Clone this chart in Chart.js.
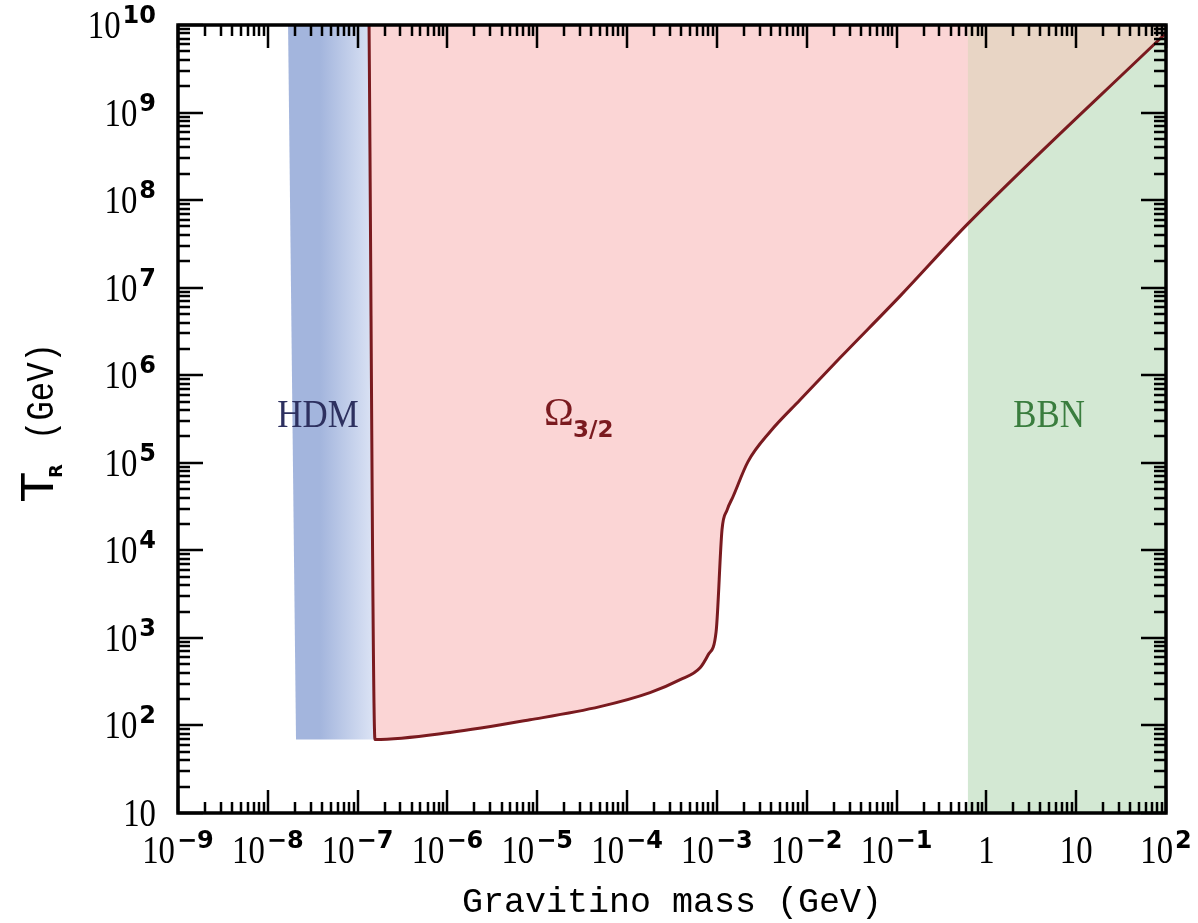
<!DOCTYPE html>
<html>
<head>
<meta charset="utf-8">
<script src="https://cdn.jsdelivr.net/npm/chart.js@4.4.0/dist/chart.umd.min.js"></script>
<style>
  body { margin: 0; background: #fff; }
  #wrap { width: 1198px; height: 923px; }
</style>
</head>
<body>
<div id="wrap"><canvas id="myChart"></canvas></div>
<script>
// ข้อมูลของกราฟ
var hdmMass = [1.68e-8, 2.06e-8, 1.56e-7, 1.56e-7];
var hdmT    = [1e10, 69, 69, 1e10];

// Omega_3/2 boundary curve
var curveMass = [1.34e-7, 1.56e-7, 1.07e-6, 8.3e-6, 5.0e-5, 1.8e-4, 3.9e-4, 6.5e-4, 8.0e-4, 9.8e-4,
                 1.14e-3, 1.30e-3, 1.51e-3, 2.22e-3, 3.91e-3, 8.45e-3, 0.0235, 0.110, 0.62, 100];
var curveT    = [1e10, 69, 83, 116, 164, 237, 333, 457, 643, 1180,
                 17200, 29000, 40900, 1.03e5, 2.26e5, 5.24e5, 1.58e6, 8.06e6, 5.35e7, 8.1e9];

// BBN band
var bbnMass = [0.62, 100];
var bbnT    = [1e10, 1e10];

// tick labels
var xTickValues = [1e-9, 1e-8, 1e-7, 1e-6, 1e-5, 1e-4, 1e-3, 1e-2, 1e-1, 1, 10, 100];
var xTickBase   = ['10', '10', '10', '10', '10', '10', '10', '10', '10', '1', '10', '10'];
var xTickSup    = ['\u22129', '\u22128', '\u22127', '\u22126', '\u22125', '\u22124', '\u22123', '\u22122', '\u22121', '', '', '2'];
var yTickValues = [10, 1e2, 1e3, 1e4, 1e5, 1e6, 1e7, 1e8, 1e9, 1e10];
var yTickBase   = ['10', '10', '10', '10', '10', '10', '10', '10', '10', '10'];
var yTickSup    = ['', '2', '3', '4', '5', '6', '7', '8', '9', '10'];

function pts(xs, ys) {
    return xs.map(function (x, i) { return { x: x, y: ys[i] }; });
}

// overlap region (Omega and BBN) = tail of the curve from the BBN edge
var bbnStart = curveMass.indexOf(bbnMass[0]);

var hdmGradient = function (context) {
    var chart = context.chart;
    var ctx = chart.ctx, area = chart.chartArea;
    if (!area) return '#a3b5dd';
    var sx = chart.scales.x;
    var g = ctx.createLinearGradient(sx.getPixelForValue(3.8e-8), 0, sx.getPixelForValue(1.45e-7), 0);
    g.addColorStop(0, '#a3b5dd');
    g.addColorStop(1, '#dae2f4');
    return g;
};

// text helper: parts drawn one after another, with optional horizontal squeeze
function richWidth(ctx, parts) {
    var w = 0;
    parts.forEach(function (p) {
        ctx.font = p.font;
        w += ctx.measureText(p.text).width * (p.sx || 1) + (p.gap || 0);
    });
    return w;
}
function drawRich(ctx, parts, x, y, align) {
    var w = richWidth(ctx, parts);
    var cx = align === 'center' ? x - w / 2 : (align === 'right' ? x - w : x);
    parts.forEach(function (p) {
        ctx.font = p.font;
        cx += (p.gap || 0);
        ctx.save();
        ctx.translate(cx, y + (p.dy || 0));
        ctx.scale(p.sx || 1, 1);
        ctx.fillText(p.text, 0, 0);
        ctx.restore();
        cx += ctx.measureText(p.text).width * (p.sx || 1);
    });
}

var BASE_FONT = '39px "Liberation Serif"';
var SUP_FONT = 'bold 24px "DejaVu Sans"';

function labelParts(base, sup) {
    var parts = [{ text: base, font: BASE_FONT, sx: 0.84 }];
    if (sup) parts.push({ text: sup, font: SUP_FONT, dy: -15, gap: 2 });
    return parts;
}

var framePlugin = {
    id: 'frame',
    afterDatasetsDraw: function (chart) {
        var ctx = chart.ctx, a = chart.chartArea;
        var sx = chart.scales.x, sy = chart.scales.y;
        ctx.save();
        ctx.strokeStyle = '#000';
        ctx.lineCap = 'butt';

        // ticks, pointing inwards on all four sides
        var e, k, p, len;
        ctx.lineWidth = 2.5;
        for (e = -9; e <= 2; e++) {
            for (k = 1; k <= 9; k++) {
                var v = k * Math.pow(10, e);
                if (v > 100.0001) break;
                p = Math.round(sx.getPixelForValue(v));
                len = (k === 1) ? 23 : 11;
                ctx.beginPath();
                ctx.moveTo(p, a.bottom); ctx.lineTo(p, a.bottom - len);
                ctx.moveTo(p, a.top); ctx.lineTo(p, a.top + len);
                ctx.stroke();
            }
        }
        for (e = 1; e <= 10; e++) {
            for (k = 1; k <= 9; k++) {
                var w = k * Math.pow(10, e);
                if (w > 1.0001e10) break;
                p = Math.round(sy.getPixelForValue(w));
                len = (k === 1) ? 25 : 12;
                ctx.beginPath();
                ctx.moveTo(a.left, p); ctx.lineTo(a.left + len, p);
                ctx.moveTo(a.right, p); ctx.lineTo(a.right - len, p);
                ctx.stroke();
            }
        }

        // box
        ctx.lineWidth = 3.5;
        ctx.strokeRect(a.left, a.top, a.right - a.left, a.bottom - a.top);

        // tick labels
        ctx.fillStyle = '#000';
        ctx.textBaseline = 'alphabetic';
        xTickValues.forEach(function (v, i) {
            drawRich(ctx, labelParts(xTickBase[i], xTickSup[i]), sx.getPixelForValue(v), 863, 'center');
        });
        yTickValues.forEach(function (v, i) {
            drawRich(ctx, labelParts(yTickBase[i], yTickSup[i]), 156, sy.getPixelForValue(v) + 13, 'right');
        });

        // axis titles
        drawRich(ctx, [{ text: 'Gravitino mass (GeV)', font: '35px "Liberation Mono"' }], (a.left + a.right) / 2, 912, 'center');

        ctx.save();
        ctx.translate(53, 503);
        ctx.rotate(-Math.PI / 2);
        drawRich(ctx, [{ text: 'T', font: '48px "Liberation Mono"', sx: 1.1 }], 0, 0, 'left');
        drawRich(ctx, [{ text: 'R', font: 'bold 18px "DejaVu Sans"' }], 25, 9, 'left');
        drawRich(ctx, [{ text: '(GeV)', font: '38px "Liberation Mono"', sx: 0.85 }], 63, 0, 'left');
        ctx.restore();

        // region labels
        ctx.fillStyle = '#2d305f';
        drawRich(ctx, [{ text: 'HDM', font: '41px "Liberation Serif"', sx: 0.85 }], 318, 427, 'center');
        ctx.fillStyle = '#3a7d3e';
        drawRich(ctx, [{ text: 'BBN', font: '41px "Liberation Serif"', sx: 0.85 }], 1049, 427, 'center');
        ctx.fillStyle = '#7a1a1f';
        drawRich(ctx, [{ text: '\u03A9', font: '40px "Liberation Serif"' }], 544, 425, 'left');
        drawRich(ctx, [{ text: '3/2', font: 'bold 23px "DejaVu Sans"' }], 573, 437, 'left');

        ctx.restore();
    }
};

var ctx = document.getElementById('myChart').getContext('2d');

var myChart = new Chart(ctx, {
    type: 'line',
    data: {
        datasets: [
            {   // Omega_3/2 boundary line on top
                data: pts(curveMass, curveT),
                borderColor: '#7a1a1f',
                borderWidth: 3,
                fill: false,
                cubicInterpolationMode: 'monotone',
                order: 0
            },
            {   // overlap of Omega_3/2 and BBN
                data: pts(curveMass.slice(bbnStart), curveT.slice(bbnStart)),
                borderWidth: 0,
                backgroundColor: '#e8d5c5',
                fill: 'end',
                cubicInterpolationMode: 'monotone',
                order: 1
            },
            {   // Omega_3/2 excluded region
                data: pts(curveMass, curveT),
                borderWidth: 0,
                backgroundColor: '#fbd5d5',
                fill: 'end',
                cubicInterpolationMode: 'monotone',
                order: 2
            },
            {   // BBN band
                data: pts(bbnMass, bbnT),
                borderWidth: 0,
                backgroundColor: '#d3e8d3',
                fill: 'start',
                order: 3
            },
            {   // HDM band
                data: pts(hdmMass, hdmT),
                borderWidth: 0,
                backgroundColor: hdmGradient,
                fill: 'end',
                order: 4
            }
        ]
    },
    options: {
        responsive: true,
        maintainAspectRatio: false,
        animation: false,
        layout: { padding: { left: 178, right: 32, top: 25, bottom: 110 } },
        elements: { point: { radius: 0 }, line: { tension: 0 } },
        plugins: { legend: { display: false }, tooltip: { enabled: false } },
        scales: {
            x: { type: 'logarithmic', min: 1e-9, max: 100, display: false },
            y: { type: 'logarithmic', min: 10, max: 1e10, display: false }
        }
    },
    plugins: [framePlugin]
});
</script>
</body>
</html>
